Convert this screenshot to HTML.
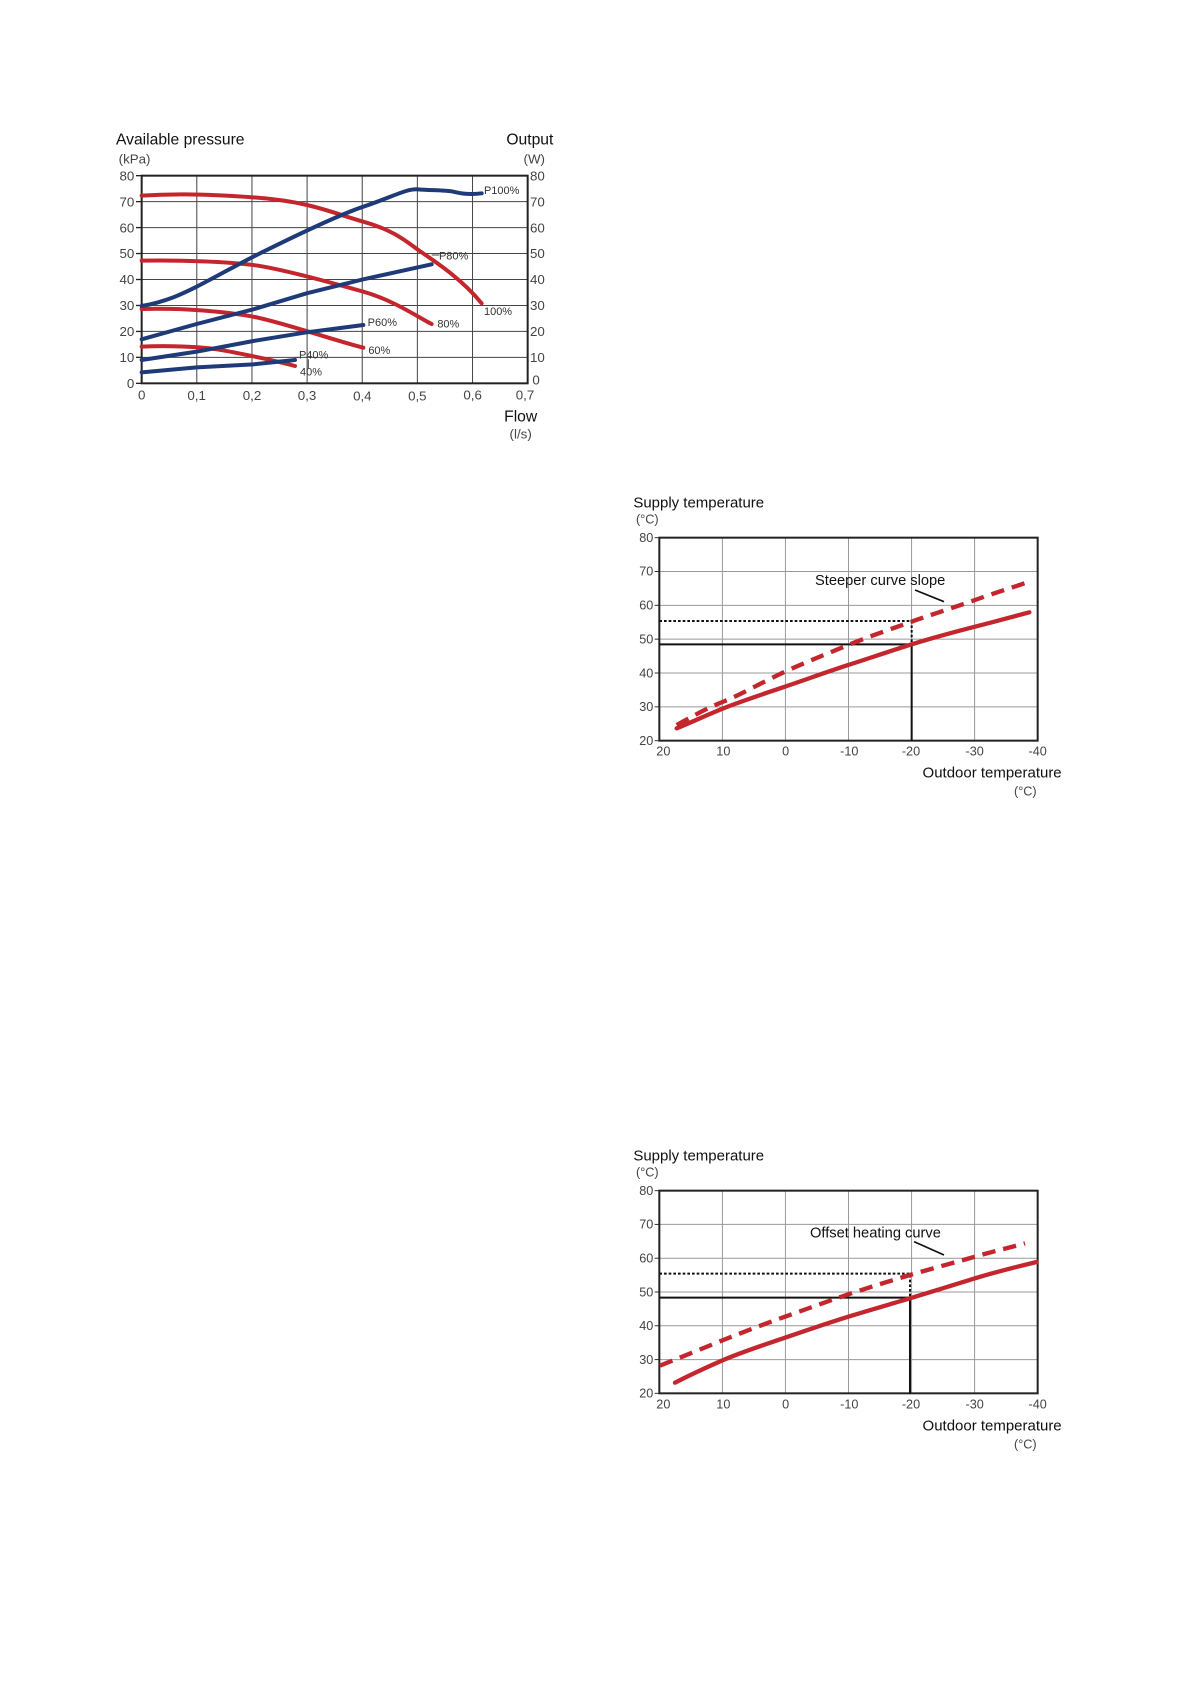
<!DOCTYPE html>
<html><head><meta charset="utf-8"><style>
html,body{margin:0;padding:0;background:#fff;}
svg{display:block;font-family:"Liberation Sans",sans-serif;}
</style></head><body>
<svg width="1191" height="1684" viewBox="0 0 1191 1684" xmlns="http://www.w3.org/2000/svg">
<rect width="1191" height="1684" fill="#fff"/>

<!-- Chart 1 -->
<g transform="translate(100,120) scale(0.33333)">
 <g stroke="#444" stroke-width="3" fill="none">
  <line x1="290.4" y1="167" x2="290.4" y2="790"/><line x1="455.9" y1="167" x2="455.9" y2="790"/>
  <line x1="621.3" y1="167" x2="621.3" y2="790"/><line x1="786.7" y1="167" x2="786.7" y2="790"/>
  <line x1="952.1" y1="167" x2="952.1" y2="790"/><line x1="1117.6" y1="167" x2="1117.6" y2="790"/>
  <line x1="125" y1="244.9" x2="1283" y2="244.9"/><line x1="125" y1="322.8" x2="1283" y2="322.8"/>
  <line x1="125" y1="400.6" x2="1283" y2="400.6"/><line x1="125" y1="478.5" x2="1283" y2="478.5"/>
  <line x1="125" y1="556.4" x2="1283" y2="556.4"/><line x1="125" y1="634.3" x2="1283" y2="634.3"/>
  <line x1="125" y1="712.1" x2="1283" y2="712.1"/>
  <line x1="995" y1="405" x2="1018" y2="405"/><line x1="585" y1="712" x2="598" y2="712"/>
  <line x1="625" y1="718" x2="625" y2="745"/>
 </g>
 <g stroke="#222" stroke-width="4">
  <line x1="108" y1="167" x2="125" y2="167"/><line x1="108" y1="244.9" x2="125" y2="244.9"/><line x1="108" y1="322.8" x2="125" y2="322.8"/><line x1="108" y1="400.6" x2="125" y2="400.6"/><line x1="108" y1="478.5" x2="125" y2="478.5"/><line x1="108" y1="556.4" x2="125" y2="556.4"/><line x1="108" y1="634.3" x2="125" y2="634.3"/><line x1="108" y1="712.1" x2="125" y2="712.1"/><line x1="108" y1="790" x2="125" y2="790"/>
 </g>
 <rect x="125" y="167" width="1158" height="623" fill="none" stroke="#222" stroke-width="6"/>
 <g fill="none" stroke="#c4262e" stroke-width="12" stroke-linecap="round" stroke-linejoin="round">
  <path d="M125,227 C200,222 290,220 460,232 S700,280 790,305 S920,365 955,390 S1080,470 1145,550"/>
  <path d="M125,422 C250,420 380,425 460,435 S700,490 790,515 S960,595 995,612"/>
  <path d="M125,567 C250,563 380,575 460,590 S700,660 790,683"/>
  <path d="M125,680 C200,676 300,680 350,688 S520,720 585,738"/>
 </g>
 <g fill="none" stroke="#1f3a78" stroke-width="12" stroke-linecap="round" stroke-linejoin="round">
  <path d="M125,558 C200,545 250,520 290,500 S420,430 460,410 S700,290 790,260 S920,205 955,208 S1040,210 1060,215 S1110,225 1145,220"/>
  <path d="M125,658 L290,612 L460,568 L620,520 L790,478 L995,433"/>
  <path d="M125,720 L290,695 L460,663 L620,637 L790,615"/>
  <path d="M125,757 L290,742 L460,733 L585,720"/>
 </g>
 <g font-size="33" fill="#333">
  <text x="1152" y="222">P100%</text><text x="1152" y="585">100%</text>
  <text x="1017" y="418">P80%</text><text x="1012" y="622">80%</text>
  <text x="803" y="618">P60%</text><text x="805" y="702">60%</text>
  <text x="597" y="715">P40%</text><text x="600" y="766">40%</text>
 </g>
 <g font-size="40" fill="#444" text-anchor="end">
  <text x="103" y="181">80</text><text x="103" y="259">70</text><text x="103" y="337">60</text><text x="103" y="414">50</text><text x="103" y="492">40</text><text x="103" y="570">30</text><text x="103" y="648">20</text><text x="103" y="726">10</text><text x="103" y="804">0</text>
 </g>
 <g font-size="40" fill="#444">
  <text x="1290" y="181">80</text><text x="1290" y="259">70</text><text x="1290" y="337">60</text><text x="1290" y="414">50</text><text x="1290" y="492">40</text><text x="1290" y="570">30</text><text x="1290" y="648">20</text><text x="1290" y="726">10</text><text x="1297" y="794">0</text>
 </g>
 <g font-size="40" fill="#444" text-anchor="middle">
  <text x="125" y="838">0</text><text x="290" y="840">0,1</text><text x="456" y="840">0,2</text><text x="621" y="840">0,3</text><text x="787" y="842">0,4</text><text x="952" y="842">0,5</text><text x="1118" y="838">0,6</text><text x="1275" y="838">0,7</text>
 </g>
 <text x="48" y="73" font-size="47" fill="#111">Available pressure</text>
 <text x="56" y="130" font-size="40" fill="#444">(kPa)</text>
 <text x="1360" y="73" font-size="47" fill="#111" text-anchor="end">Output</text>
 <text x="1335" y="130" font-size="40" fill="#444" text-anchor="end">(W)</text>
 <text x="1262" y="905" font-size="47" fill="#111" text-anchor="middle">Flow</text>
 <text x="1262" y="955" font-size="40" fill="#444" text-anchor="middle">(l/s)</text>
</g>

<!-- Chart 2 -->
<g transform="translate(620,490) scale(0.33333)">
 <g stroke="#999" stroke-width="3">
  <line x1="307.2" y1="143" x2="307.2" y2="752"/><line x1="496.3" y1="143" x2="496.3" y2="752"/><line x1="685.5" y1="143" x2="685.5" y2="752"/><line x1="874.7" y1="143" x2="874.7" y2="752"/><line x1="1063.8" y1="143" x2="1063.8" y2="752"/>
  <line x1="118" y1="244.5" x2="1253" y2="244.5"/><line x1="118" y1="346" x2="1253" y2="346"/><line x1="118" y1="447.5" x2="1253" y2="447.5"/><line x1="118" y1="549" x2="1253" y2="549"/><line x1="118" y1="650.5" x2="1253" y2="650.5"/>
 </g>
 <g stroke="#333" stroke-width="3">
  <line x1="104" y1="143" x2="118" y2="143"/><line x1="104" y1="244.5" x2="118" y2="244.5"/><line x1="104" y1="346" x2="118" y2="346"/><line x1="104" y1="447.5" x2="118" y2="447.5"/><line x1="104" y1="549" x2="118" y2="549"/><line x1="104" y1="650.5" x2="118" y2="650.5"/><line x1="104" y1="752" x2="118" y2="752"/>
 </g>
 <rect x="118" y="143" width="1135" height="609" fill="none" stroke="#222" stroke-width="6"/>
 <g stroke="#111" fill="none">
  <polyline points="118,463 875,463 875,752" stroke-width="6"/>
  <polyline points="118,393 875,393 875,463" stroke-width="6" stroke-dasharray="8,6"/>
  <line x1="885" y1="300" x2="972" y2="335" stroke-width="5"/>
 </g>
 <path d="M170,715 C230,690 260,675 310,655 S430,612 495,590 S620,546 685,525 S820,480 875,463 S1010,424 1065,410 S1180,380 1228,367" fill="none" stroke="#c4262e" stroke-width="13" stroke-linecap="round"/>
 <path d="M170,705 C230,672 260,655 310,635 S430,575 495,545 S620,492 685,465 S820,415 875,395 S1010,350 1065,330 S1180,292 1228,275" fill="none" stroke="#c4262e" stroke-width="13" stroke-dasharray="40,24"/>
 <text x="585" y="285" font-size="44" fill="#111">Steeper curve slope</text>
 <g font-size="38" fill="#444" text-anchor="end">
  <text x="100" y="156">80</text><text x="100" y="257">70</text><text x="100" y="359">60</text><text x="100" y="460">50</text><text x="100" y="562">40</text><text x="100" y="663">30</text><text x="100" y="765">20</text>
 </g>
 <g font-size="38" fill="#444" text-anchor="middle">
  <text x="130" y="797">20</text><text x="310" y="797">10</text><text x="497" y="797">0</text><text x="688" y="797">-10</text><text x="873" y="797">-20</text><text x="1064" y="797">-30</text><text x="1253" y="797">-40</text>
 </g>
 <text x="40" y="52" font-size="45" fill="#111">Supply temperature</text>
 <text x="48" y="100" font-size="38" fill="#444">(°C)</text>
 <text x="1325" y="862" font-size="45" fill="#111" text-anchor="end">Outdoor temperature</text>
 <text x="1250" y="917" font-size="38" fill="#444" text-anchor="end">(°C)</text>
</g>

<!-- Chart 3 -->
<g transform="translate(620,1140) scale(0.33333)">
 <g stroke="#999" stroke-width="3">
  <line x1="307.2" y1="152" x2="307.2" y2="760"/><line x1="496.3" y1="152" x2="496.3" y2="760"/><line x1="685.5" y1="152" x2="685.5" y2="760"/><line x1="874.7" y1="152" x2="874.7" y2="760"/><line x1="1063.8" y1="152" x2="1063.8" y2="760"/>
  <line x1="118" y1="253.3" x2="1253" y2="253.3"/><line x1="118" y1="354.7" x2="1253" y2="354.7"/><line x1="118" y1="456" x2="1253" y2="456"/><line x1="118" y1="557.3" x2="1253" y2="557.3"/><line x1="118" y1="658.7" x2="1253" y2="658.7"/>
 </g>
 <g stroke="#333" stroke-width="3">
  <line x1="104" y1="152" x2="118" y2="152"/><line x1="104" y1="253.3" x2="118" y2="253.3"/><line x1="104" y1="354.7" x2="118" y2="354.7"/><line x1="104" y1="456" x2="118" y2="456"/><line x1="104" y1="557.3" x2="118" y2="557.3"/><line x1="104" y1="658.7" x2="118" y2="658.7"/><line x1="104" y1="760" x2="118" y2="760"/>
 </g>
 <rect x="118" y="152" width="1135" height="608" fill="none" stroke="#222" stroke-width="6"/>
 <g stroke="#111" fill="none">
  <polyline points="118,473 870,473 870,760" stroke-width="6"/>
  <polyline points="118,401 870,401 870,473" stroke-width="6" stroke-dasharray="8,6"/>
  <line x1="882" y1="305" x2="972" y2="345" stroke-width="5"/>
 </g>
 <path d="M165,728 C230,695 260,682 310,660 S430,615 495,593 S620,550 685,530 S820,490 870,475 S1010,432 1065,415 S1200,378 1250,366" fill="none" stroke="#c4262e" stroke-width="13" stroke-linecap="round"/>
 <path d="M120,677 C200,645 260,620 310,600 S430,553 495,530 S620,485 685,463 S820,420 870,405 S1010,366 1065,350 S1180,320 1215,310" fill="none" stroke="#c4262e" stroke-width="13" stroke-dasharray="40,24"/>
 <text x="570" y="293" font-size="44" fill="#111">Offset heating curve</text>
 <g font-size="38" fill="#444" text-anchor="end">
  <text x="100" y="165">80</text><text x="100" y="266">70</text><text x="100" y="368">60</text><text x="100" y="469">50</text><text x="100" y="570">40</text><text x="100" y="672">30</text><text x="100" y="773">20</text>
 </g>
 <g font-size="38" fill="#444" text-anchor="middle">
  <text x="130" y="806">20</text><text x="310" y="806">10</text><text x="497" y="806">0</text><text x="688" y="806">-10</text><text x="873" y="806">-20</text><text x="1064" y="806">-30</text><text x="1253" y="806">-40</text>
 </g>
 <text x="40" y="61" font-size="45" fill="#111">Supply temperature</text>
 <text x="48" y="109" font-size="38" fill="#444">(°C)</text>
 <text x="1325" y="871" font-size="45" fill="#111" text-anchor="end">Outdoor temperature</text>
 <text x="1250" y="926" font-size="38" fill="#444" text-anchor="end">(°C)</text>
</g>
</svg>
</body></html>
